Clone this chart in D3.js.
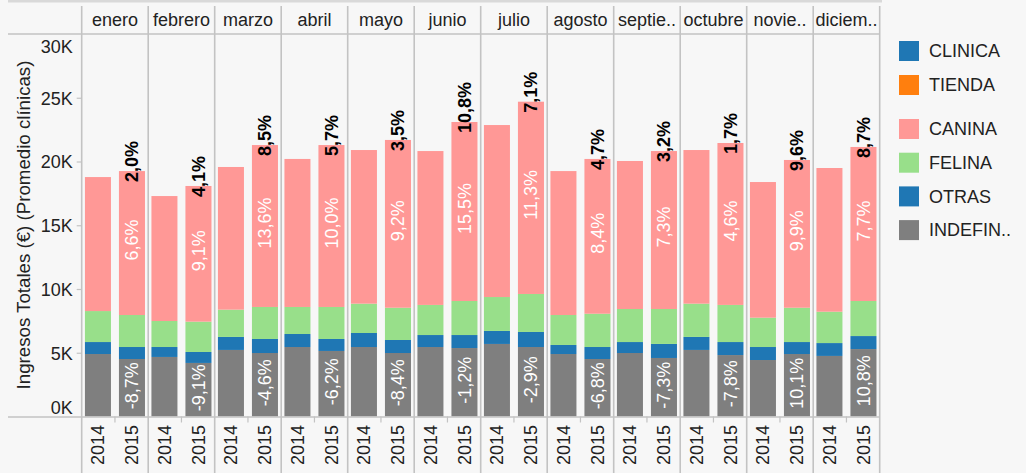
<!DOCTYPE html>
<html><head><meta charset="utf-8">
<script src="https://cdn.jsdelivr.net/npm/d3@7"></script>
<style>
html,body{margin:0;padding:0;background:#f7f7f7;}
svg{display:block;font-family:"Liberation Sans",Arial,sans-serif;}
</style></head>
<body>
<svg id="chart" width="1026" height="473"></svg>
<script>
// ---- data ----
const months = ["enero","febrero","marzo","abril","mayo","junio","julio","agosto","septie..","octubre","novie..","diciem.."];
const years = ["2014","2015"];
const seriesNames = ["INDEFIN..","OTRAS","FELINA","CANINA"];
const indefin2014 = [4900,4670,5220,5450,5450,5450,5690,4900,4980,5220,4430,4750];
const indefin2015 = [4510,4200,4980,5140,4980,5370,5450,4510,4590,4820,4900,5290];
const otras2014   = [940,780,1020,1020,1100,940,1020,710,860,1020,1020,1010];
const otras2015   = [940,860,1100,940,1020,1020,1180,940,1100,1020,940,1020];
const felina2014  = [2430,2040,2140,2120,2300,2360,2660,2350,2590,2610,2300,2460];
const felina2015  = [2510,2380,2510,2510,2530,2670,2980,2610,2740,2910,2690,2750];
const canina2014  = [10510,9800,11190,11610,12050,12070,13490,11290,11610,12050,10640,11270];
const canina2015  = [11290,10640,12700,12700,13160,14040,15080,12140,12390,12700,11590,12080];
const totalLabels = ["2,0%","4,1%","8,5%","5,7%","3,5%","10,8%","7,1%","4,7%","3,2%","1,7%","9,6%","8,7%"];
const caninaLabels = ["6,6%","9,1%","13,6%","10,0%","9,2%","15,5%","11,3%","8,4%","7,3%","4,6%","9,9%","7,7%"];
const indefLabels = ["-8,7%","-9,1%","-4,6%","-6,2%","-8,4%","-1,2%","-2,9%","-6,8%","-7,3%","-7,8%","10,1%","10,8%"];
const yTicks = [0,5000,10000,15000,20000,25000,30000];
const legend1 = ["CLINICA","TIENDA"];
const legend2 = ["CANINA","FELINA","OTRAS","INDEFIN.."];

const colors = {"CLINICA":"#1f77b4","TIENDA":"#ff7f0e","CANINA":"#ff9896","FELINA":"#98df8a","OTRAS":"#1f77b4","INDEFIN..":"#7f7f7f"};

// ---- table ----
const rows = [];
months.forEach((m,i)=>{
  rows.push({month:m, year:"2014", idx:i, "INDEFIN..":indefin2014[i], "OTRAS":otras2014[i], "FELINA":felina2014[i], "CANINA":canina2014[i]});
  rows.push({month:m, year:"2015", idx:i, "INDEFIN..":indefin2015[i], "OTRAS":otras2015[i], "FELINA":felina2015[i], "CANINA":canina2015[i]});
});
const stacked = d3.stack().keys(seriesNames)(rows);

const svg = d3.select("#chart");
const pL = 81.7, pR = 879.7, pT = 34, pB = 416.5;
const x0 = d3.scaleBand().domain(months).range([pL,pR]);
const x1 = d3.scaleBand().domain(years).range([0,x0.bandwidth()]).paddingInner(0.235).paddingOuter(0.095);
const y = d3.scaleLinear().domain([0,30000]).range([pB,pT]);
const lineCol = "#c3c3c3";
const txtCol = "#222";

svg.append("rect").attr("x",8).attr("y",0).attr("width",874).attr("height",2.5).attr("fill","#d9d9d9");

const g = svg.append("g");
stacked.forEach(s=>{
  g.selectAll(null).data(s).join("rect")
    .attr("x",d=>x0(d.data.month)+x1(d.data.year))
    .attr("width",x1.bandwidth())
    .attr("y",d=>y(d[1]))
    .attr("height",d=>y(d[0])-y(d[1]))
    .attr("fill",colors[s.key]);
});

const seps = months.map(m=>x0(m)).concat([pR]);
svg.selectAll(null).data(seps).join("line")
  .attr("x1",d=>d).attr("x2",d=>d).attr("y1",6).attr("y2",473)
  .attr("stroke",lineCol).attr("stroke-width",1.6);
[pT, pB+0.5].forEach(yy=>{
  svg.append("line").attr("x1",8).attr("x2",pR).attr("y1",yy).attr("y2",yy)
    .attr("stroke",lineCol).attr("stroke-width",1.6);
});
svg.selectAll(null).data(months).join("line")
  .attr("x1",d=>x0(d)+x0.bandwidth()/2).attr("x2",d=>x0(d)+x0.bandwidth()/2)
  .attr("y1",pB).attr("y2",pB+6).attr("stroke",lineCol).attr("stroke-width",1.2);

svg.selectAll(null).data(months).join("text")
  .attr("x",d=>x0(d)+x0.bandwidth()/2).attr("y",26)
  .attr("text-anchor","middle").attr("font-size",18).attr("fill",txtCol).text(d=>d);

svg.selectAll(null).data(rows).join("text")
  .attr("transform",d=>`translate(${x0(d.month)+x1(d.year)+x1.bandwidth()/2},445) rotate(-90)`)
  .attr("text-anchor","middle").attr("dy","0.35em").attr("font-size",18).attr("fill",txtCol).text(d=>d.year);

const yAxis = d3.axisLeft(y).tickValues(yTicks).tickFormat(d=>(d/1000)+"K").tickSize(5).tickPadding(4);
const ya = svg.append("g").attr("transform",`translate(${pL},0)`).call(yAxis);
ya.select(".domain").remove();
ya.selectAll(".tick line").attr("stroke",lineCol).attr("stroke-width",1.2);
ya.selectAll(".tick text").attr("font-size",18).attr("fill",txtCol)
  .attr("font-family","Liberation Sans, Arial, sans-serif")
  .attr("dy",d=> d===30000 ? "1.02em" : d===0 ? "-0.18em" : "0.35em");
ya.selectAll(".tick").filter(d=>d===30000||d===0).select("line").remove();

svg.append("text").attr("transform","translate(23,225) rotate(-90)")
  .attr("text-anchor","middle").attr("dy","0.35em").attr("font-size",18.7).attr("fill",txtCol)
  .text("Ingresos Totales (€) (Promedio clínicas)");

const r2015 = rows.filter(r=>r.year==="2015");
const topS = stacked[3], canS = stacked[3], indS = stacked[0];
const bx = d=>x0(d.month)+x1("2015")+x1.bandwidth()/2;
svg.selectAll(null).data(r2015).join("text")
  .attr("transform",d=>`translate(${bx(d)},${y(topS[rows.indexOf(d)][1])+11}) rotate(-90)`)
  .attr("text-anchor","start").attr("dy","0.35em").attr("font-size",18).attr("font-weight","bold").attr("fill","#000")
  .text(d=>totalLabels[d.idx]);
svg.selectAll(null).data(r2015).join("text")
  .attr("transform",d=>{const s=canS[rows.indexOf(d)]; return `translate(${bx(d)},${(y(s[0])+y(s[1]))/2-3}) rotate(-90)`;})
  .attr("text-anchor","middle").attr("dy","0.35em").attr("font-size",18).attr("fill","#fff")
  .text(d=>caninaLabels[d.idx]);
svg.selectAll(null).data(r2015).join("text")
  .attr("transform",d=>{const s=indS[rows.indexOf(d)]; return `translate(${bx(d)},${(y(s[0])+y(s[1]))/2-2}) rotate(-90)`;})
  .attr("text-anchor","middle").attr("dy","0.35em").attr("font-size",18).attr("fill","#fff")
  .text(d=>indefLabels[d.idx]);

const lg = svg.append("g");
const legItems = legend1.map((n,i)=>({n, yy:41+i*34})).concat(legend2.map((n,i)=>({n, yy:119+i*33.7})));
lg.selectAll(null).data(legItems).join("rect")
  .attr("x",899).attr("y",d=>d.yy).attr("width",20).attr("height",20).attr("fill",d=>colors[d.n]);
lg.selectAll(null).data(legItems).join("text")
  .attr("x",929).attr("y",d=>d.yy+10).attr("dy","0.35em").attr("font-size",18).attr("fill",txtCol).text(d=>d.n);
</script>
</body></html>
